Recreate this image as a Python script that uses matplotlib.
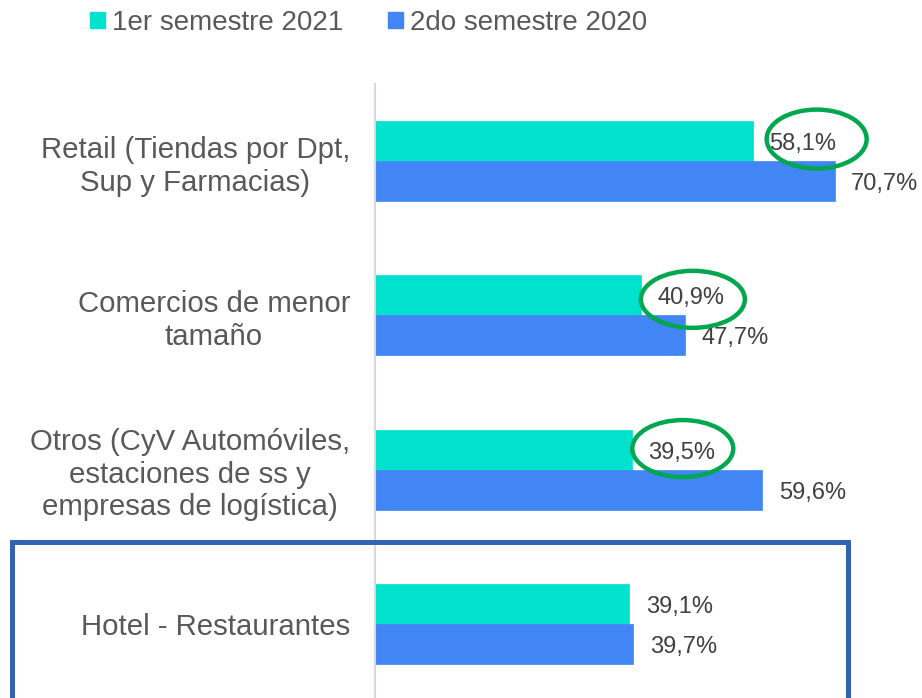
import matplotlib
matplotlib.use("Agg")
import matplotlib.pyplot as plt
from matplotlib.patches import Ellipse, Rectangle, Patch
from matplotlib.transforms import IdentityTransform

plt.rcParams['font.family'] = ['Liberation Sans', 'DejaVu Sans']

categories = ["Retail (Tiendas por Dpt,\nSup y Farmacias)",
              "Comercios de menor\ntamaño",
              "Otros (CyV Automóviles,\nestaciones de ss y\nempresas de logística)",
              "Hotel - Restaurantes"]
series_names = ["1er semestre 2021", "2do semestre 2020"]
s2021 = [58.1, 40.9, 39.5, 39.1]
s2020 = [70.7, 47.7, 59.6, 39.7]
labels2021 = ["58,1%", "40,9%", "39,5%", "39,1%"]
labels2020 = ["70,7%", "47,7%", "59,6%", "39,7%"]
highlighted = [0, 1, 2]

teal = "#00E2CE"
blue = "#4285F4"
txt = "#595959"

W, H = 922, 698
fig = plt.figure(figsize=(W / 100, H / 100), dpi=100)
ax = fig.add_axes([375 / W, -3 / H, 520 / W, 617 / H])

ys = list(range(len(categories)))
bh = 0.259
off = 0.13
ax.barh([y - off for y in ys], s2021, height=bh, color=teal, edgecolor=teal, linewidth=0.5)
ax.barh([y + off for y in ys], s2020, height=bh, color=blue, edgecolor=blue, linewidth=0.5)

ax.set_xlim(0, 80)
ax.set_ylim(3.5, -0.5)
ax.set_yticks(ys)
ax.set_yticklabels(categories, fontsize=21.2, color=txt, multialignment='center')
ax.tick_params(axis='y', length=0, pad=18)
ax.set_xticks([])
for s in ['top', 'right', 'bottom']:
    ax.spines[s].set_visible(False)
ax.spines['left'].set_color("#D9D9D9")
ax.spines['left'].set_linewidth(1.5)

for y, v, l in zip(ys, s2021, labels2021):
    ax.annotate(l, (v, y - off), xytext=(12, -2.2), textcoords='offset points',
                va='center', ha='left', fontsize=17, color="#404040")
for y, v, l in zip(ys, s2020, labels2020):
    ax.annotate(l, (v, y + off), xytext=(12, -2.2), textcoords='offset points',
                va='center', ha='left', fontsize=17, color="#404040")

# green ellipses around highlighted values (pixel offsets from bar end)
ell_dx = [64, 52, 51]
ell_dy = [2, -4, 1]
ell_w = [100, 104, 101]
ell_h = [59, 57, 57]
for k, i in enumerate(highlighted):
    cx, cy = ax.transData.transform((s2021[i], i - off))
    e = Ellipse((cx + ell_dx[k], cy + ell_dy[k]), ell_w[k], ell_h[k],
                transform=IdentityTransform(), fill=False,
                edgecolor="#00A74F", linewidth=3.2, clip_on=False)
    fig.add_artist(e)

# blue highlight box
rect = Rectangle((12, -20), 836, 20 + (H - 542), transform=IdentityTransform(),
                 fill=False, edgecolor="#3462B0", linewidth=3.6, clip_on=False)
fig.add_artist(rect)

handles = [Patch(facecolor=teal, edgecolor=teal), Patch(facecolor=blue, edgecolor=blue)]
leg = fig.legend(handles, series_names, loc='center left', bbox_to_anchor=(90 / W, 1 - 23 / H),
                 ncol=2, frameon=False, fontsize=20, labelcolor=txt,
                 handlelength=0.54, handleheight=0.54, handletextpad=0.25,
                 columnspacing=1.6, borderpad=0, borderaxespad=0)

fig.savefig("out.png", dpi=100)
